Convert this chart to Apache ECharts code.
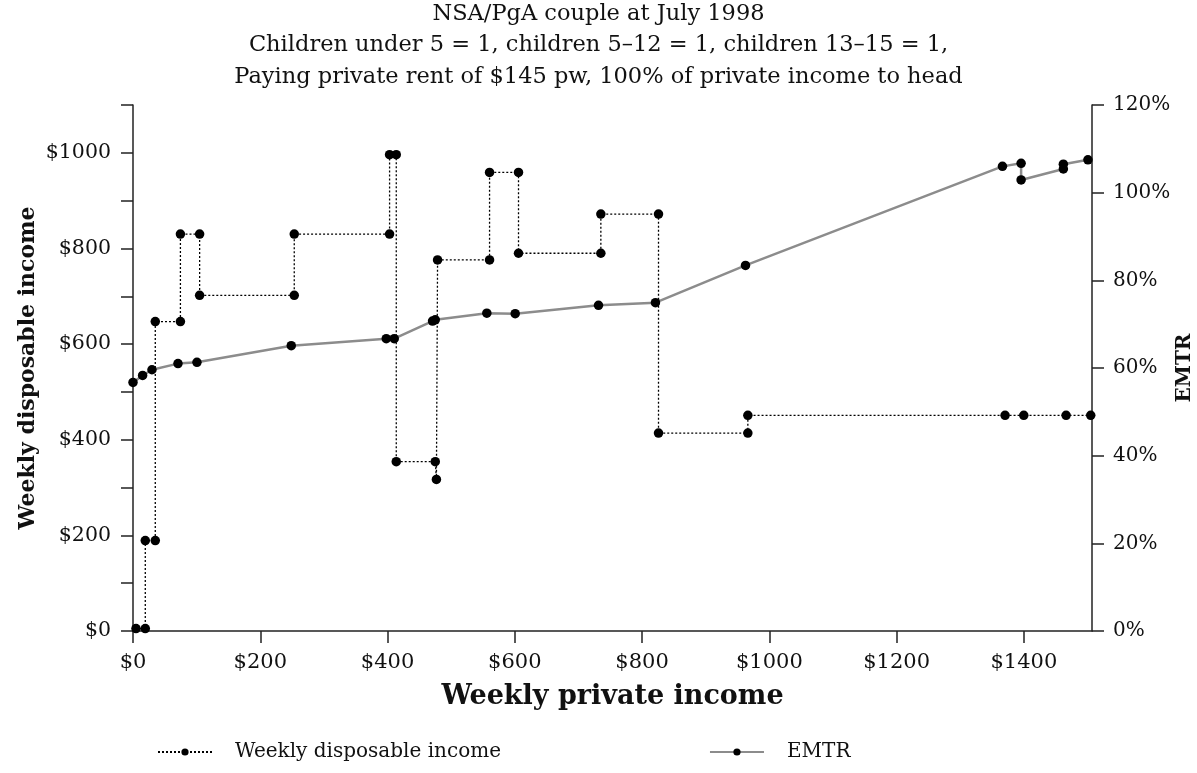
<!DOCTYPE html>
<html>
<head>
<meta charset="utf-8">
<script src="https://cdn.jsdelivr.net/npm/echarts@6/dist/echarts.min.js"></script>
<style>
  html, body { margin: 0; padding: 0; background: #fff; }
  #chart { width: 1197px; height: 773px; }
</style>
</head>
<body>
<div id="chart"></div>
<script>
// Dotted step series (legend: Weekly disposable income), left axis, $ per week
const incomeX = [4.7, 19.3, 19.3, 35, 35, 74.5, 74.5, 104.7, 104.7, 253.4, 253.4, 403.2, 403.2, 413.7, 413.7, 475, 476.8, 478.6, 560.3, 560.3, 605.8, 605.8, 735.2, 735.2, 825.8, 825.8, 966.2, 966.2, 1370.4, 1399.8, 1466.3, 1505];
const incomeY = [5, 5, 189, 189, 647, 647, 830, 830, 702, 702, 830, 830, 996, 996, 354, 354, 317, 776, 776, 959, 959, 790, 790, 872, 872, 414, 414, 451, 451, 451, 451, 451];

// Solid grey series (legend: EMTR), right axis, percent
const emtrX = [0, 15.1, 29.8, 70.7, 100.5, 248.7, 398, 410.5, 470.7, 475, 556, 600.6, 731.5, 821, 962.5, 1366.3, 1395.6, 1395.6, 1462, 1462, 1500.6];
const emtrY = [56.7, 58.3, 59.6, 61.0, 61.3, 65.1, 66.7, 66.7, 70.7, 71.0, 72.5, 72.4, 74.3, 74.9, 83.4, 106.0, 106.7, 102.9, 105.4, 106.5, 107.5];

const xTickValues = [0, 200, 400, 600, 800, 1000, 1200, 1400];
const titleLines = [
  'NSA/PgA couple at July 1998',
  'Children under 5 = 1, children 5\u201312 = 1, children 13\u201315 = 1,',
  'Paying private rent of $145 pw, 100% of private income to head'
];

const FONT = 'DejaVu Serif';
const chart = echarts.init(document.getElementById('chart'), null, { renderer: 'canvas' });

const incomeData = incomeX.map((x, i) => [x, incomeY[i]]);
const emtrData = emtrX.map((x, i) => [x, emtrY[i]]);

const axisLine = { show: true, lineStyle: { color: '#222', width: 1.5 } };
const axisTick = { show: true, length: 12, lineStyle: { color: '#222', width: 1.5 } };

chart.setOption({
  animation: false,
  backgroundColor: '#fff',
  title: {
    text: titleLines.join('\n'),
    left: 'center',
    top: -7,
    textStyle: { fontFamily: FONT, fontSize: 22.5, fontWeight: 'normal', color: '#111', lineHeight: 31.5 }
  },
  grid: { left: 133, top: 105, width: 959, height: 526, containLabel: false, outerBoundsMode: 'none' },
  legend: {
    bottom: 6,
    left: 152,
    itemGap: 208,
    itemWidth: 54,
    itemHeight: 9,
    textStyle: { fontFamily: FONT, fontSize: 20, color: '#111', padding: [0, 0, 0, 18] },
    data: ['Weekly disposable income', 'EMTR']
  },
  xAxis: {
    type: 'value',
    min: 0,
    max: 1507,
    interval: 200,
    name: 'Weekly private income',
    nameLocation: 'middle',
    nameGap: 52,
    nameMoveOverlap: false,
    nameTextStyle: { fontFamily: FONT, fontSize: 27, fontWeight: 'bold', color: '#111' },
    axisLine: axisLine,
    axisTick: Object.assign({}, axisTick, { customValues: xTickValues }),
    axisLabel: {
      customValues: xTickValues,
      margin: 21,
      fontFamily: FONT, fontSize: 21, color: '#111',
      formatter: v => '$' + v
    },
    splitLine: { show: false }
  },
  yAxis: [
    {
      type: 'value',
      min: 0,
      max: 1100,
      interval: 100,
      position: 'left',
      name: 'Weekly disposable income',
      nameLocation: 'middle',
      nameGap: 94,
      nameMoveOverlap: false,
      nameRotate: 90,
      nameTextStyle: { fontFamily: FONT, fontSize: 22, fontWeight: 'bold', color: '#111' },
      axisLine: axisLine,
      axisTick: axisTick,
      axisLabel: {
        margin: 22,
        fontFamily: FONT, fontSize: 20.5, color: '#111',
        formatter: v => (v % 200 === 0 ? '$' + v : '')
      },
      splitLine: { show: false }
    },
    {
      type: 'value',
      min: 0,
      max: 120,
      interval: 20,
      position: 'right',
      name: 'EMTR',
      nameLocation: 'middle',
      nameGap: 83,
      nameMoveOverlap: false,
      nameRotate: 90,
      nameTextStyle: { fontFamily: FONT, fontSize: 20, fontWeight: 'bold', color: '#111' },
      axisLine: axisLine,
      axisTick: axisTick,
      axisLabel: {
        margin: 21,
        fontFamily: FONT, fontSize: 20, color: '#111',
        formatter: v => v + '%'
      },
      splitLine: { show: false }
    }
  ],
  series: [
    {
      name: 'Weekly disposable income',
      type: 'line',
      yAxisIndex: 0,
      data: incomeData,
      symbol: 'circle',
      symbolSize: 9.5,
      showAllSymbol: true,
      itemStyle: { color: '#000' },
      lineStyle: { color: '#000', width: 1.3, type: [2, 2] },
      z: 3
    },
    {
      name: 'EMTR',
      type: 'line',
      yAxisIndex: 1,
      data: emtrData,
      symbol: 'circle',
      symbolSize: 9.5,
      showAllSymbol: true,
      itemStyle: { color: '#000' },
      lineStyle: { color: '#8c8c8c', width: 2.5 },
      z: 2
    }
  ]
});
</script>
</body>
</html>
